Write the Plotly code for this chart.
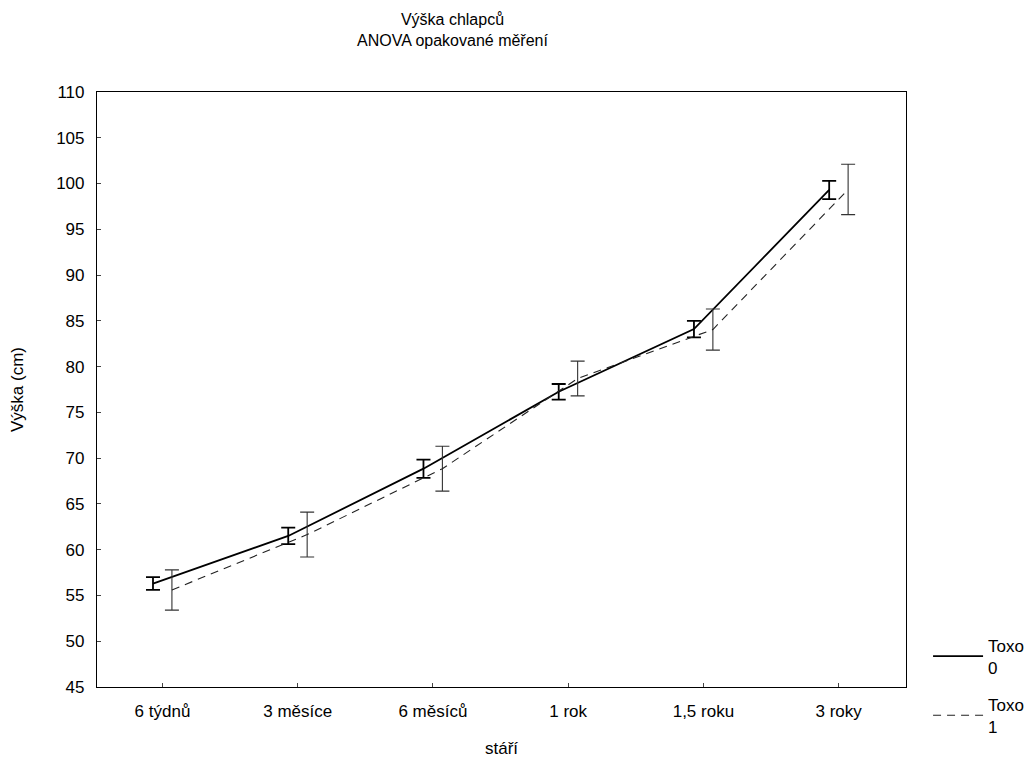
import plotly.graph_objects as go

categories = ["6 týdnů", "3 měsíce", "6 měsíců", "1 rok", "1,5 roku", "3 roky"]
toxo0_mean = [56.3, 61.5, 68.85, 77.25, 84.1, 99.3]
toxo0_err = [0.7, 0.9, 1.0, 0.85, 0.9, 1.0]
toxo1_mean = [55.6, 61.65, 68.85, 78.7, 84.05, 99.35]
toxo1_err = [2.2, 2.45, 2.45, 1.9, 2.25, 2.75]
series_names = ["Toxo<br>0", "Toxo<br>1"]

idx = list(range(len(categories)))
off = 0.07
x0 = [i - off for i in idx]
x1 = [i + off for i in idx]

font = "Liberation Sans, Arial, sans-serif"

fig = go.Figure()
fig.add_trace(go.Scatter(
    x=x0, y=toxo0_mean, mode="lines", name=series_names[0], legendgroup="g0",
    line=dict(color="black", width=1.8),
    error_y=dict(type="data", array=toxo0_err, visible=True,
                 color="black", thickness=1.8, width=7),
))
fig.add_trace(go.Scatter(
    x=x1, y=toxo1_mean, mode="lines", name=series_names[1], legendgroup="g1",
    line=dict(color="#222", width=1.1, dash="8px,6px"),
    error_y=dict(type="data", array=toxo1_err, visible=True,
                 color="#333", thickness=1.1, width=7),
))

fig.add_annotation(text="Výška chlapců<br>ANOVA opakované měření",
                   xref="paper", yref="paper", x=0.439, y=1.069,
                   xanchor="center", yanchor="bottom", showarrow=False,
                   font=dict(size=16), align="center")

fig.update_layout(
    width=1032, height=764,
    paper_bgcolor="white", plot_bgcolor="white",
    margin=dict(l=89, r=133, t=84, b=85),
    font=dict(family=font, size=16, color="black"),
    xaxis=dict(range=[-0.484, 5.498], tickvals=idx, ticktext=categories,
               showgrid=False, zeroline=False, showline=True, mirror=True,
               linecolor="black", linewidth=1.2, ticks="inside", ticklen=4,
               tickfont=dict(size=17), automargin=False, ticklabelstandoff=8,
               title=dict(text="stáří", standoff=22, font=dict(size=17))),
    yaxis=dict(range=[45, 110], dtick=5, showgrid=False, zeroline=False,
               showline=True, mirror=True, linecolor="black", linewidth=1.2,
               ticks="inside", ticklen=4, tickfont=dict(size=17),
               automargin=False, ticklabelstandoff=8,
               title=dict(text="Výška (cm)", standoff=28, font=dict(size=17))),
    legend=dict(x=1.026, y=0.10, xanchor="left", yanchor="top",
                bgcolor="rgba(0,0,0,0)", font=dict(size=17),
                tracegroupgap=12, itemwidth=50),
    showlegend=True,
)

fig.write_html("out.html")
